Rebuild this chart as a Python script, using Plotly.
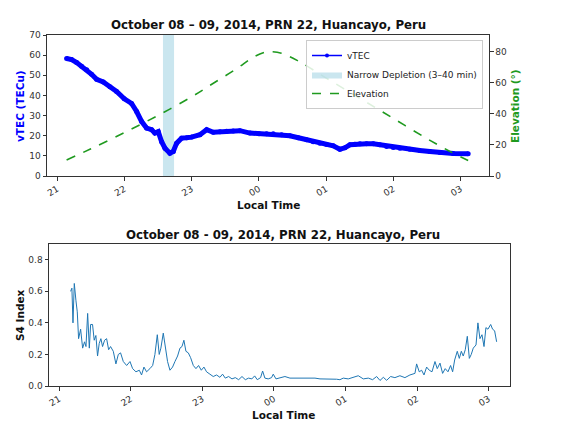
import pandas as pd
import plotly.graph_objects as go

BASE = pd.Timestamp("2014-10-08 21:00")

# vTEC (minutes after 21:00 LT, TECu)
vtec_min = [8.3, 12.8, 17.3, 21.7, 26.2, 30.6, 35.1, 41.0, 47.0, 52.9, 59.8, 66.3, 70.8, 75.3,
            79.7, 84.2, 87.1, 90.1, 93.1, 96.1, 100.5, 103.5, 106.5, 110.9, 115.4, 119.9, 127.3,
            133.3, 139.2, 145.2, 151.1, 157.0, 163.0, 171.9, 180.0, 186.8, 192.7, 200.2, 207.6,
            215.1, 222.5, 228.4, 234.4, 240.3, 246.3, 252.2, 256.7, 261.2, 265.6, 270.1, 276.0,
            282.0, 287.9, 293.9, 299.8, 305.8, 314.7, 323.6, 332.5, 341.5, 353.4, 366.7]
vtec_val = [58.3, 57.8, 56.3, 54.5, 52.7, 50.5, 48.0, 46.7, 44.3, 42.0, 38.3, 36.0, 32.0, 27.0,
            23.8, 23.0, 21.3, 22.0, 17.0, 13.8, 11.3, 12.2, 16.3, 18.8, 19.0, 19.3, 20.5,
            23.0, 21.7, 22.0, 22.2, 22.3, 22.5, 21.3, 21.0, 21.0, 21.0, 20.5, 20.0,
            19.0, 18.0, 17.0, 16.3, 15.6, 15.0, 13.3, 14.0, 15.5, 15.8, 16.0, 16.0,
            16.0, 15.5, 14.7, 14.2, 13.8, 13.3, 12.7, 12.2, 11.7, 11.2, 11.0]

# Elevation (minutes after 21:00 LT, degrees)
elev_min = [8.3, 30, 60, 90, 120, 140, 160, 175, 185, 190, 200, 215, 240, 270, 300, 330, 350, 366.7]
elev_val = [10.3, 17.5, 28.0, 39.0, 51.0, 60.0, 69.0, 76.5, 79.5, 80.0, 79.0, 74.0, 63.0, 50.0,
            37.0, 24.0, 16.0, 10.0]

# Narrow depletion window (minutes after 21:00 LT)
band_min = [94.3, 104.2]

# S4 index (minutes after 21:00 LT)
s4_min = [9.5, 10.6, 11.5, 12.6, 14.0, 15.1, 16.2, 17.9, 19.6, 21.2, 22.4, 23.8, 25.2, 26.3, 27.9,
          29.3, 30.7, 32.1, 33.5, 34.9, 36.3, 38.0, 39.7, 41.4, 43.0, 45.3, 47.5, 49.5, 51.4, 53.7,
          56.5, 59.3, 61.5, 64.3, 67.1, 69.0, 71.0, 73.2, 76.0, 78.3, 80.2, 82.2, 83.8, 85.2, 87.2,
          88.9, 90.8, 92.8, 95.0, 97.0, 99.2, 101.2, 102.9, 104.5, 106.2, 108.2, 110.1, 112.4, 114.6,
          116.8, 119.1, 121.3, 123.5, 126.3, 129.1, 131.9, 134.7, 136.9, 139.2, 142.0, 144.8, 147.6,
          150.4, 153.2, 156.0, 158.7, 161.5, 163.8, 166.0, 168.8, 170.5, 172.4, 175.2, 178.0, 179.4,
          181.7, 185.0, 189.2, 193.4, 197.6, 201.8, 206.0, 210.2, 214.4, 218.6, 222.8, 226.9, 232.5,
          235.3, 238.1, 242.3, 246.5, 250.7, 254.9, 259.1, 262.7, 266.1, 268.9, 271.7, 274.5, 277.8,
          281.4, 285.6, 289.8, 294.0, 298.2, 299.6, 301.8, 303.8, 305.8, 308.0, 310.2, 312.5, 315.0,
          316.9, 319.2, 321.4, 323.6, 325.9, 328.1, 329.8, 331.5, 333.7, 335.4, 337.1, 338.7, 340.4,
          342.1, 343.8, 345.4, 347.1, 349.4, 351.0, 352.7, 354.4, 356.1, 357.7, 359.4, 361.7, 363.3,
          365.0, 366.7]
s4_val = [0.60, 0.62, 0.40, 0.65, 0.54, 0.47, 0.30, 0.36, 0.24, 0.28, 0.25, 0.46, 0.24, 0.39, 0.39,
          0.29, 0.32, 0.19, 0.27, 0.30, 0.25, 0.29, 0.30, 0.23, 0.25, 0.22, 0.14, 0.20, 0.21, 0.155,
          0.13, 0.155, 0.11, 0.09, 0.10, 0.07, 0.12, 0.09, 0.11, 0.13, 0.20, 0.325, 0.20, 0.24, 0.335,
          0.24, 0.155, 0.10, 0.12, 0.155, 0.19, 0.24, 0.25, 0.29, 0.22, 0.21, 0.18, 0.13, 0.11,
          0.13, 0.10, 0.12, 0.09, 0.075, 0.06, 0.07, 0.055, 0.075, 0.05, 0.06, 0.045, 0.053,
          0.04, 0.06, 0.04, 0.05, 0.045, 0.064, 0.04, 0.053, 0.095, 0.05, 0.045, 0.053, 0.075,
          0.045, 0.05, 0.06, 0.05, 0.05, 0.053, 0.05, 0.05, 0.05, 0.045, 0.045, 0.043, 0.043,
          0.04, 0.05, 0.045, 0.053, 0.065, 0.045, 0.05, 0.04, 0.06, 0.035, 0.055, 0.036, 0.06,
          0.053, 0.065, 0.053, 0.07, 0.08, 0.14, 0.09, 0.10, 0.07, 0.12, 0.10, 0.09, 0.155,
          0.11, 0.145, 0.08, 0.11, 0.09, 0.13, 0.09, 0.165, 0.22, 0.175, 0.22, 0.19, 0.23,
          0.315, 0.175, 0.20, 0.24, 0.26, 0.40, 0.30, 0.325, 0.25, 0.37, 0.36, 0.39, 0.36,
          0.35, 0.28]

hour_labels = ["21", "22", "23", "00", "01", "02", "03"]

def to_time(mins):
    return list(BASE + pd.to_timedelta(mins, unit="m"))

FONT = "DejaVu Sans"
OFF = 8                       # page body margin
W, H = 574 - OFF, 428 - OFF   # figure size so the page is filled exactly
BLUE = "#0000ff"
GREEN = "#1f9a1f"
hour_ticks = [BASE + pd.Timedelta(hours=i) for i in range(len(hour_labels))]

def px_x(p):
    return (p - OFF) / W

def px_y(p):
    return 1 - (p - OFF) / H

fig = go.Figure()

t0, t1 = to_time(band_min)
fig.add_trace(go.Scatter(x=[t0, t0, t1, t1, t0], y=[0, 70, 70, 0, 0], fill="toself",
                         fillcolor="rgba(173,216,230,0.65)", line=dict(width=0),
                         mode="lines", name="Narrow Depletion (3–40 min)", legendrank=2,
                         xaxis="x", yaxis="y", hoverinfo="skip"))
fig.add_trace(go.Scatter(x=to_time(vtec_min), y=vtec_val, mode="lines+markers", name="vTEC",
                         line=dict(color=BLUE, width=5), marker=dict(color=BLUE, size=5),
                         showlegend=False, legendgroup="vtec", xaxis="x", yaxis="y"))
# legend entry for vTEC (thin line with dot marker, as in the legend)
fig.add_trace(go.Scatter(x=[None], y=[None], mode="lines+markers", name="vTEC",
                         line=dict(color=BLUE, width=1.5), marker=dict(color=BLUE, size=4),
                         legendgroup="vtec", legendrank=1, xaxis="x", yaxis="y"))
fig.add_trace(go.Scatter(x=to_time(elev_min), y=elev_val, mode="lines", name="Elevation",
                         line=dict(color=GREEN, width=1.6, dash="dash"), legendrank=3,
                         line_shape="spline", xaxis="x", yaxis="y2"))
fig.add_trace(go.Scatter(x=to_time(s4_min), y=s4_val, mode="lines", name="S4",
                         line=dict(color="#1f77b4", width=1), showlegend=False,
                         xaxis="x2", yaxis="y3"))

axis_common = dict(showline=True, linecolor="#333333", linewidth=1, ticks="outside",
                   ticklen=3.5, tickcolor="#333333", showgrid=False, zeroline=False,
                   automargin=False, tickfont=dict(family=FONT, size=9, color="#333333"))

fig.update_layout(
    width=W, height=H, margin=dict(l=0, r=0, t=0, b=0),
    paper_bgcolor="white", plot_bgcolor="white",
    font=dict(family=FONT, size=9, color="#222222"),
    xaxis=dict(domain=[px_x(47), px_x(489)], anchor="y", type="date",
               range=[BASE - pd.Timedelta(minutes=9.2), BASE + pd.Timedelta(minutes=385.3)],
               tickvals=hour_ticks, ticktext=hour_labels, tickangle=-30, mirror=True,
               **axis_common),
    yaxis=dict(domain=[px_y(176), px_y(35)], anchor="x", range=[0, 70], dtick=10,
               mirror=True, **axis_common),
    yaxis2=dict(overlaying="y", side="right", anchor="x", range=[0, 90.7], dtick=20,
                **axis_common),
    xaxis2=dict(domain=[px_x(49), px_x(510)], anchor="y3", type="date",
                range=[BASE - pd.Timedelta(minutes=8.6), BASE + pd.Timedelta(minutes=377.9)],
                tickvals=hour_ticks, ticktext=hour_labels, tickangle=-30, mirror=True,
                **axis_common),
    yaxis3=dict(domain=[px_y(386), px_y(244)], anchor="x2", range=[0, 0.9],
                tickvals=[0, 0.2, 0.4, 0.6, 0.8], ticktext=["0.0", "0.2", "0.4", "0.6", "0.8"],
                mirror=True, **axis_common),
    legend=dict(x=px_x(483), y=px_y(40), xanchor="right", yanchor="top",
                bgcolor="rgba(255,255,255,0.85)", bordercolor="#cccccc", borderwidth=1,
                font=dict(family=FONT, size=9, color="#222222"), tracegroupgap=0,
                itemwidth=30),
)

annots = [
    dict(text="<b>October 08 – 09, 2014, PRN 22, Huancayo, Peru</b>", x=px_x(268), y=px_y(25), size=11.8, color="#111111"),
    dict(text="<b>Local Time</b>", x=px_x(268), y=px_y(205), size=10.5, color="#111111"),
    dict(text="<b>vTEC (TECu)</b>", x=px_x(20), y=px_y(106), size=10.5, color=BLUE, angle=-90),
    dict(text="<b>Elevation (°)</b>", x=px_x(515), y=px_y(106), size=10.5, color=GREEN, angle=-90),
    dict(text="<b>October 08 - 09, 2014, PRN 22, Huancayo, Peru</b>", x=px_x(283), y=px_y(235), size=11.8, color="#111111"),
    dict(text="<b>Local Time</b>", x=px_x(283), y=px_y(415), size=10.5, color="#111111"),
    dict(text="<b>S4 Index</b>", x=px_x(20), y=px_y(315), size=10.5, color="#111111", angle=-90),
]
for a in annots:
    fig.add_annotation(text=a["text"], x=a["x"], y=a["y"], xref="paper", yref="paper",
                       xanchor="center", yanchor="middle", showarrow=False,
                       textangle=a.get("angle", 0),
                       font=dict(family=FONT, size=a["size"], color=a["color"]))

fig.write_html("out.html")
